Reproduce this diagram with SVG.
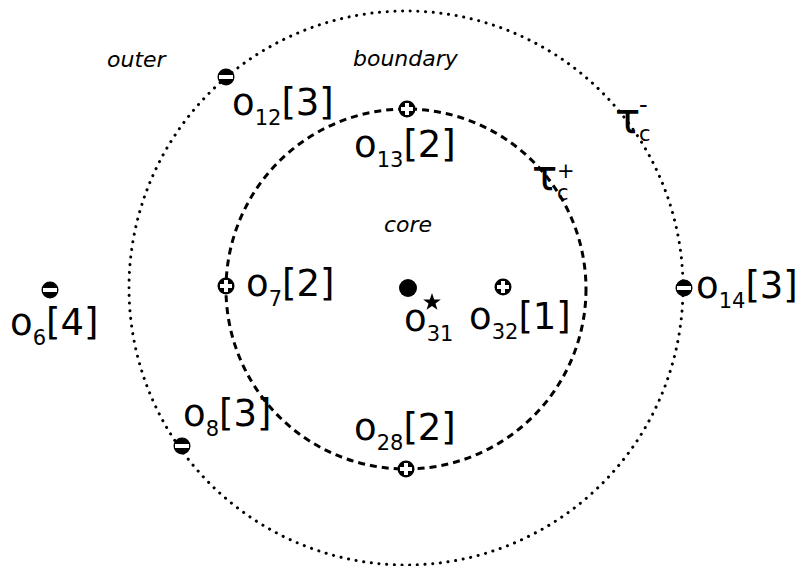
<svg xmlns="http://www.w3.org/2000/svg" xmlns:xlink="http://www.w3.org/1999/xlink" width="805" height="566" viewBox="0 0 805 566">
<style>
.t{font-family:"DejaVu Sans",sans-serif;font-size:37px;fill:#000}
.s{font-size:21px}
.tau{font-size:42px}
.it{font-family:"DejaVu Sans",sans-serif;font-size:22px;font-style:italic;fill:#000}
.inner{fill:none;stroke:#000;stroke-width:3;stroke-dasharray:7 5}
.outer{fill:none;stroke:#000;stroke-width:3;stroke-linecap:round;stroke-dasharray:0.1 7.6}
</style>
<defs>
<g id="mminus"><circle r="8.5" fill="#000"/><rect x="-7" y="-2" width="14" height="4" fill="#fff"/></g>
<g id="mplus"><circle r="8.5" fill="#000"/><rect x="-6" y="-2" width="12" height="4" fill="#fff"/><rect x="-2" y="-6" width="4" height="12" fill="#fff"/></g>
</defs>
<rect width="805" height="566" fill="#fff"/>
<g id="connectors">
<circle class="outer" cx="406" cy="288" r="277"/>
<circle class="inner" cx="406" cy="289" r="180"/>
</g>
<g id="regions">
<text class="it" x="107" y="67">outer</text>
<text class="it" x="353" y="66">boundary</text>
<text class="it" x="384" y="232">core</text>
</g>
<g id="tau_minus">
<text class="t tau" x="615" y="133">τ</text>
<text class="t s" x="639" y="141">c</text>
<text class="t s" x="639" y="113" style="font-size:24px">-</text>
</g>
<g id="tau_plus">
<text class="t tau" x="532" y="190">τ</text>
<text class="t s" x="557" y="200">c</text>
<text class="t s" x="557" y="178">+</text>
</g>
<g id="o12"><use xlink:href="#mminus" x="226" y="77"/><text class="t" x="232" y="115">o<tspan class="s" dy="10">12</tspan><tspan dy="-10">[3]</tspan></text></g>
<g id="o13"><use xlink:href="#mplus" x="407" y="109"/><text class="t" x="354" y="157">o<tspan class="s" dy="10">13</tspan><tspan dy="-10">[2]</tspan></text></g>
<g id="o6"><use xlink:href="#mminus" x="50" y="290"/><text class="t" x="10" y="335">o<tspan class="s" dy="10">6</tspan><tspan dy="-10">[4]</tspan></text></g>
<g id="o7"><use xlink:href="#mplus" x="226" y="286"/><text class="t" x="246" y="296">o<tspan class="s" dy="10">7</tspan><tspan dy="-10">[2]</tspan></text></g>
<g id="o31"><circle cx="408" cy="288" r="9" fill="#000"/><polygon fill="#000" points="432,293 434.2,299.4 440.8,299.4 435.5,303.4 437.4,309.8 432,305.9 426.6,309.8 428.5,303.4 423.2,299.4 429.8,299.4"/><text class="t" x="404" y="331">o<tspan class="s" dy="10">31</tspan></text></g>
<g id="o32"><use xlink:href="#mplus" x="503" y="287"/><text class="t" x="469" y="329">o<tspan class="s" dy="10">32</tspan><tspan dy="-10">[1]</tspan></text></g>
<g id="o14"><use xlink:href="#mminus" x="684" y="288"/><text class="t" x="696" y="298">o<tspan class="s" dy="10">14</tspan><tspan dy="-10">[3]</tspan></text></g>
<g id="o8"><use xlink:href="#mminus" x="182" y="446"/><text class="t" x="183" y="426">o<tspan class="s" dy="10">8</tspan><tspan dy="-10">[3]</tspan></text></g>
<g id="o28"><use xlink:href="#mplus" x="406" y="469"/><text class="t" x="354" y="440">o<tspan class="s" dy="10">28</tspan><tspan dy="-10">[2]</tspan></text></g>
</svg>
